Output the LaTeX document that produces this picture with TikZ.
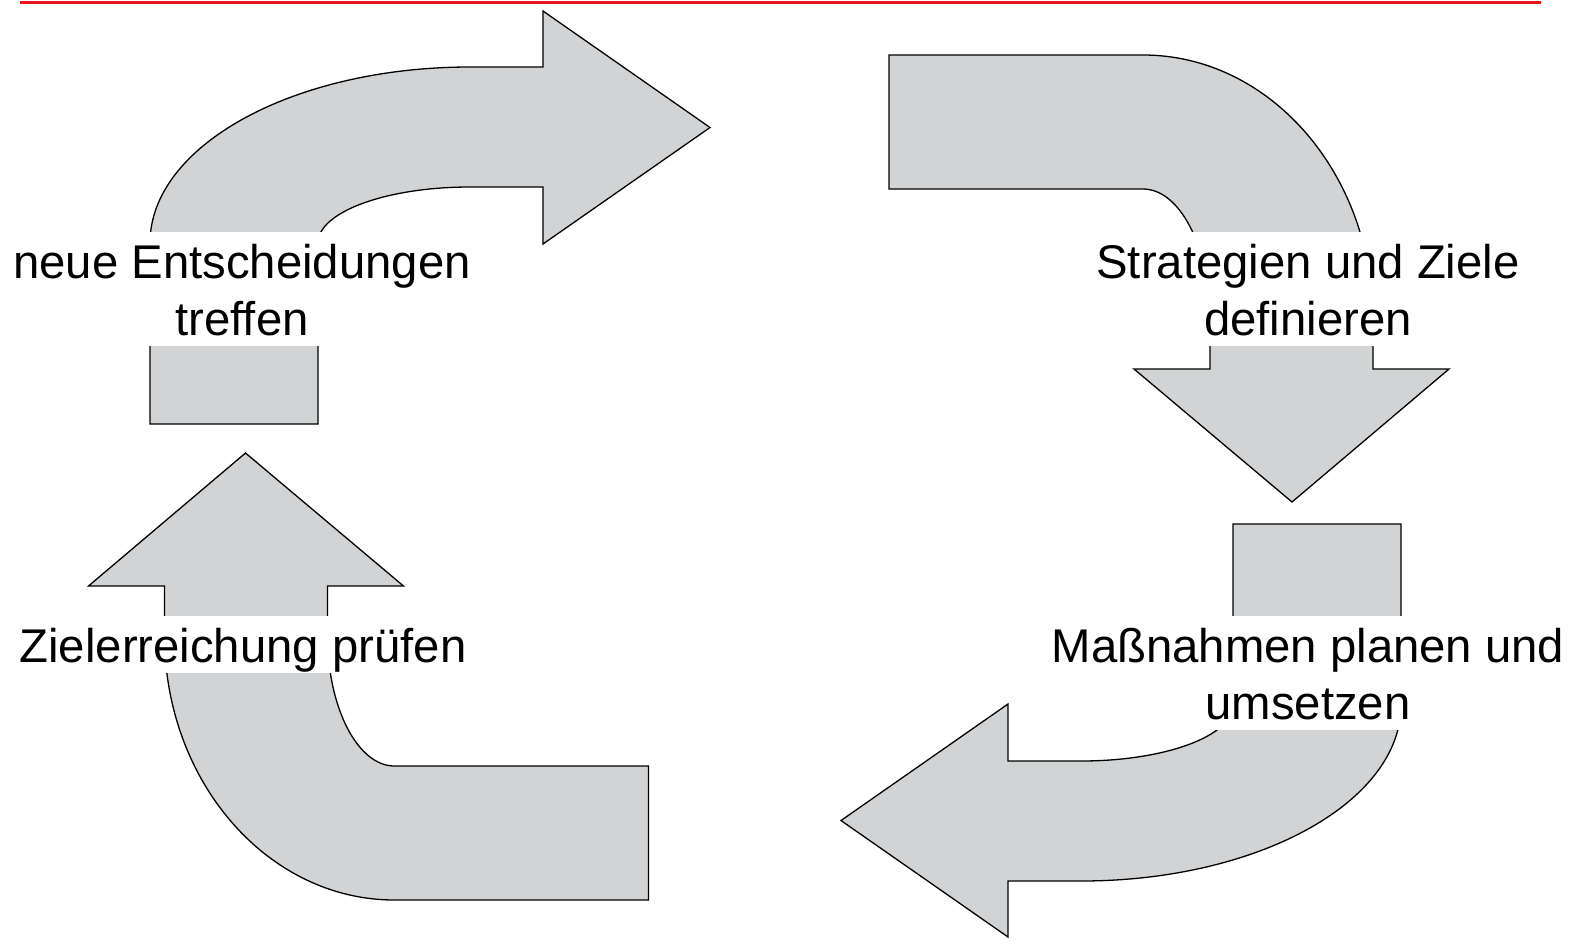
\documentclass[tikz,border=0pt]{standalone}
\usepackage{fontspec}
\setmainfont[Ligatures=NoCommon]{Liberation Sans}
\definecolor{arrowgray}{RGB}{209,211,212}
\definecolor{topred}{RGB}{232,22,28}
\newcommand{\lstr}{\rule[-11pt]{0pt}{57pt}}
\begin{document}
\begin{tikzpicture}[x=1pt,y=-1pt,
  arrowshape/.style={fill=arrowgray, draw=black, line width=1.3pt, line join=miter},
  textbox/.style={fill=white, inner sep=0pt, align=center, anchor=north,
    font=\fontsize{47.3pt}{57pt}\selectfont}]
\useasboundingbox (0,0) rectangle (1587,946);
\draw[topred, line width=3pt] (20,2.5) -- (1541,2.5);
% top-left arrow
\draw[arrowshape] (150,424) -- (150,243) .. controls (150,145.8) and (293.3,67) .. (470,67)
  -- (543,67) -- (543,11) -- (710,127.5) -- (543,244) -- (543,187) -- (470,187)
  .. controls (386,187) and (318,212.1) .. (318,243) -- (318,424) -- cycle;
% top-right arrow
\draw[arrowshape] (889,55) -- (1143,55) .. controls (1270,55) and (1373,173.6) .. (1373,320)
  -- (1373,369) -- (1449,369) -- (1292,502) -- (1134,369) -- (1210,369) -- (1210,320)
  .. controls (1210,247.6) and (1180,189) .. (1143,189) -- (889,189) -- cycle;
% bottom-right arrow
\draw[arrowshape] (1401,524) -- (1401,705) .. controls (1401,802.2) and (1257.7,881) .. (1081,881)
  -- (1008,881) -- (1008,937) -- (841,820.5) -- (1008,704) -- (1008,761) -- (1081,761)
  .. controls (1165,761) and (1233,735.9) .. (1233,705) -- (1233,524) -- cycle;
% bottom-left arrow
\draw[arrowshape] (648.5,900) -- (394.5,900) .. controls (267.5,900) and (164.5,781.4) .. (164.5,635)
  -- (164.5,586) -- (88.5,586) -- (245.5,453) -- (403.5,586) -- (327.5,586) -- (327.5,635)
  .. controls (327.5,707.4) and (357.5,766) .. (394.5,766) -- (648.5,766) -- cycle;
% labels
\node[textbox] (t1) at (242,232) {neue Entscheidungen\lstr\\treffen\lstr};
\node[textbox] (t2) at (1308,232) {Strategien und Ziele\lstr\\definieren\lstr};
\node[textbox] (t3) at (1308,616) {Maßnahmen planen und\lstr\\umsetzen\lstr};
\node[textbox] (t4) at (243,616) {Zielerreichung prüfen\lstr};
\end{tikzpicture}
\end{document}
